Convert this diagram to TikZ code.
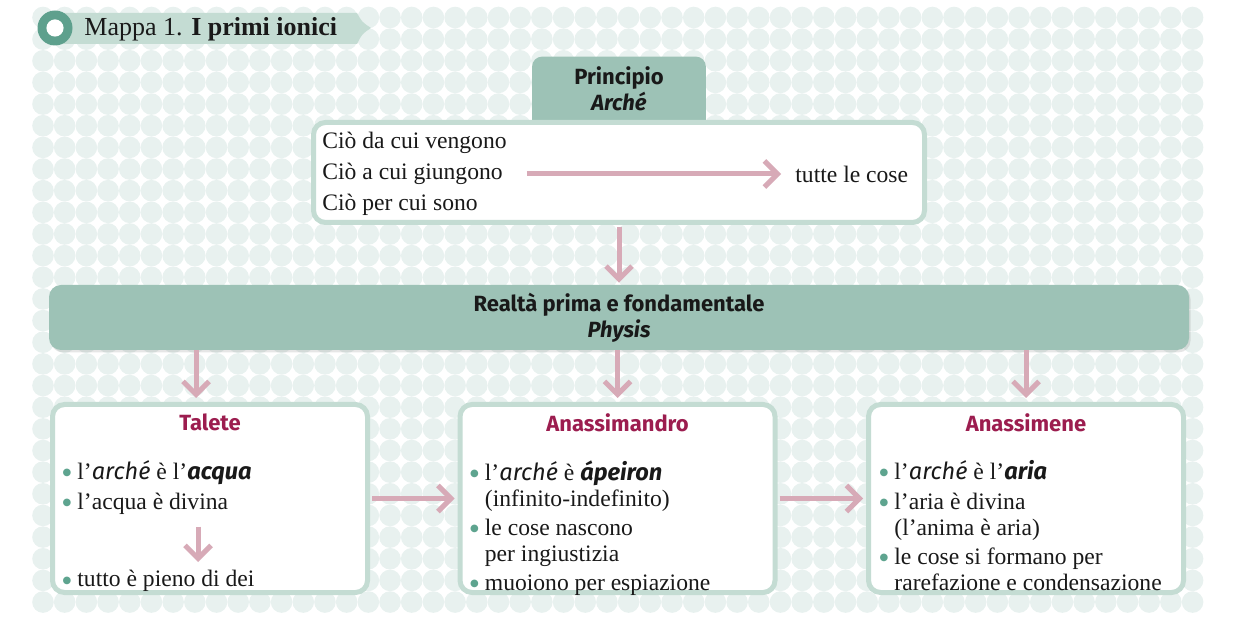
\documentclass[tikz,border=0pt]{standalone}
\usepackage{fontspec}
\setmainfont{Liberation Serif}
\newfontfamily\headfont{Fira Sans}
\newfontfamily\symfont{DejaVu Sans}
\usetikzlibrary{arrows.meta, positioning, shadows, backgrounds}
\usepackage{xcolor}
\definecolor{dotgreen}{RGB}{232, 241, 239}
\definecolor{tealfill}{RGB}{157, 194, 182}
\definecolor{framegreen}{RGB}{196, 220, 211}
\definecolor{ringgreen}{RGB}{94, 160, 141}
\definecolor{bulletgreen}{RGB}{94, 164, 143}
\definecolor{arrowpink}{RGB}{215, 170, 183}
\definecolor{namered}{RGB}{156, 29, 79}
\definecolor{inkblack}{RGB}{25, 25, 25}

\pgfdeclarelayer{dots}
\pgfsetlayers{dots,background,main}

\newcommand{\bul}{\llap{\raisebox{1.8pt}{\textcolor{bulletgreen}{\symfont\fontsize{5}{5}\selectfont ●}}\hspace{3pt}}}
\newcommand{\ital}[1]{{\headfont\itshape #1}}
\newcommand{\boldital}[1]{{\headfont\bfseries\itshape #1}}

\begin{document}
\begin{tikzpicture}[
                x=0.5pt, y=-0.5pt,
                body/.style={font=\fontsize{11.8}{13}\selectfont, text=inkblack, inner sep=0pt},
                item/.style={body, align=left, anchor=north west},
                head/.style={font=\headfont\bfseries\fontsize{11}{13}\selectfont, text=inkblack, align=center, inner sep=0pt},
                tabbox/.style={head, minimum width=86.5pt, minimum height=31.5pt},
                whitebox/.style={draw=framegreen, line width=2.5pt, fill=white, rounded corners=6pt},
                philobox/.style={whitebox, minimum width=157.5pt, minimum height=94pt},
                bandbox/.style={head, fill=tealfill, rounded corners=6pt, minimum width=570pt, minimum height=32.5pt,
                    drop shadow={shadow xshift=0.8pt, shadow yshift=-1.2pt, opacity=0.2}},
                philoname/.style={font=\headfont\bfseries\fontsize{11}{13}\selectfont, text=namered, inner sep=0pt},
                arrow/.style={-{Straight Barb[length=6.5pt, width=13pt]}, line width=2.5pt, draw=arrowpink}
            ]
                \useasboundingbox (0,0) rectangle (1257,635);

                % sfondo a pallini
                \begin{pgfonlayer}{dots}
                \foreach \i in {0,...,53}
                    \foreach \j in {0,...,27}
                        \fill[dotgreen] (43+21.69*\i, 17.5+21.65*\j) circle[radius=5.4pt];
                \end{pgfonlayer}

                % titolo
                \fill[framegreen] (55,13) -- (357,13) .. controls (362,22) .. (371,28) .. controls (362,34) .. (357,44) -- (55,44) -- cycle;
                \fill[ringgreen] (55,28) circle[radius=8.75pt];
                \fill[white] (55,28) circle[radius=4.3pt];
                \node[anchor=west, font=\fontsize{13}{15}\selectfont, text=inkblack, inner sep=0pt] (titolo) at (84,29) {Mappa 1. \textbf{I primi ionici}};

                % principio
                \node[tabbox] (principio) at (619,88.5) {Principio\\{\itshape Arché}};
                \begin{pgfonlayer}{background}
                \fill[tealfill, rounded corners=5pt] (principio.south west) -- (principio.north west) -- (principio.north east) -- (principio.south east);
                \end{pgfonlayer}
                \node[whitebox, minimum width=305.5pt, minimum height=50pt] (cornice) at (619,172.5) {};
                \node[body, anchor=west, align=left, font=\fontsize{11.8}{15.5}\selectfont] (cio) at (322,174) {Ciò da cui vengono\\Ciò a cui giungono\\Ciò per cui sono};
                \node[body, anchor=west] (cose) at (795,174) {tutte le cose};
                \draw[arrow, shorten <=10pt, shorten >=7pt] (cio.east) -- (cose.west);

                % physis
                \node[bandbox] (physis) at (619,317.5) {Realtà prima e fondamentale\\{\itshape Physis}};
                \draw[arrow, shorten <=1pt, shorten >=1pt] (cornice) -- (physis);

                % i tre filosofi
                \node[philobox] (talete) at (210,498.5) {};
                \node[philobox] (anassimandro) at (617.5,498.5) {};
                \node[philobox] (anassimene) at (1026,498.5) {};

                \node[philoname, below=5.5pt of talete.north] (taletenome) {Talete};
                \node[philoname, below=5.5pt of anassimandro.north] (anassimandronome) {Anassimandro};
                \node[philoname, below=5.5pt of anassimene.north] (anassimenenome) {Anassimene};

                \node[item] (taleteA) at ([shift={(27,58)}]talete.north west) {\bul l'\ital{arché} è l'\boldital{acqua}\\[2pt]\bul l'acqua è divina};
                \node[item] (taleteB) at ([shift={(27,168)}]talete.north west) {\bul tutto è pieno di dei};
                \draw[arrow, shorten <=6pt, shorten >=4pt] ([xshift=-6pt]taleteA.south -| talete.center) -- ([xshift=-6pt]taleteB.north -| talete.center);

                \node[item] (anassimandroA) at ([shift={(27,58)}]anassimandro.north west) {\bul l'\ital{arché} è \boldital{ápeiron}\\(infinito-indefinito)\\[1.5pt]\bul le cose nascono\\per ingiustizia\\[1.5pt]\bul muoiono per espiazione};

                \node[item] (anassimeneA) at ([shift={(28,58)}]anassimene.north west) {\bul l'\ital{arché} è l'\boldital{aria}\\[2pt]\bul l'aria è divina\\(l'anima è aria)\\[1.5pt]\bul le cose si formano per\\rarefazione e condensazione};

                % frecce
                \draw[arrow, shorten >=2pt] ([xshift=-7pt]physis.south -| talete.north) -- ([xshift=-7pt]talete.north);
                \draw[arrow, shorten >=2pt] (physis.south -| anassimandro.north) -- (anassimandro.north);
                \draw[arrow, shorten >=2pt] (physis.south -| anassimene.north) -- (anassimene.north);
                \draw[arrow, shorten <=1pt, shorten >=1.5pt] (talete.east) -- (anassimandro.west);
                \draw[arrow, shorten <=1pt, shorten >=1.5pt] (anassimandro.east) -- (anassimene.west);
            \end{tikzpicture}
\end{document}
